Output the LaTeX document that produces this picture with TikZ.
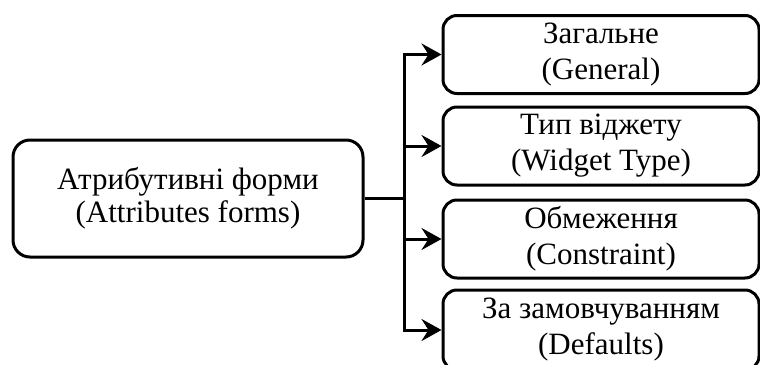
\documentclass[tikz,border=0pt]{standalone}
\usepackage{fontspec}
\setmainfont{Liberation Serif}
\usetikzlibrary{arrows.meta}
\begin{document}
\begin{tikzpicture}[x=1pt,y=-1pt,
  box/.style={draw, line width=3pt, rounded corners=14pt, align=center,
    font=\fontsize{31}{36}\selectfont, inner sep=0pt},
  link/.style={line width=3pt},
  arr/.style={line width=3pt, line join=miter, -{Stealth[length=20pt,width=22pt,inset=7pt]}}]
\useasboundingbox (0,0) rectangle (760,364);
\node[box, minimum width=350pt, minimum height=117pt, rounded corners=17pt, font=\fontsize{31}{33}\selectfont] (src) at (188,198.5) {Атрибутивні форми\\(Attributes forms)};
\node[box, minimum width=316pt, minimum height=78pt] (g) at (601,54.5) {Загальне\\(General)};
\node[box, minimum width=316pt, minimum height=78pt] (w) at (601,146) {Тип віджету\\(Widget Type)};
\node[box, minimum width=316pt, minimum height=78pt] (c) at (601,239) {Обмеження\\(Constraint)};
\node[box, minimum width=316pt, minimum height=80pt] (d) at (601,330) {За замовчуванням\\(Defaults)};
\coordinate (j) at (404,198.5);
\draw[link] (src.east) -- (j);
\draw[arr] (j) |- (g.west);
\draw[arr] (j) |- (w.west);
\draw[arr] (j) |- (c.west);
\draw[arr] (j) |- (d.west);
\end{tikzpicture}
\end{document}
